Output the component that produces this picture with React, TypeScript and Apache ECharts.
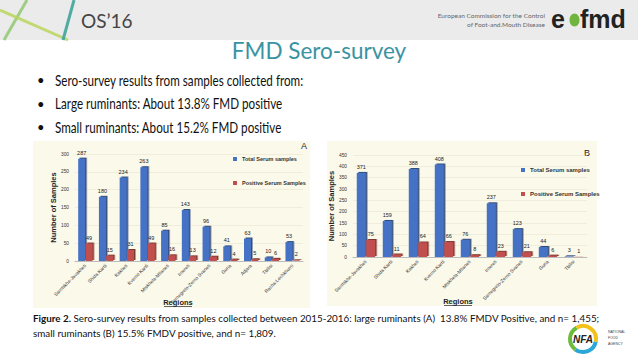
import React, { useEffect, useRef } from "react";
import * as echarts from "echarts";

const regionsA = [
  "Samtskhe-Javakheti",
  "Shida Kartli",
  "Kakheti",
  "Kvemo Kartli",
  "Mtskheta-Mtianeti",
  "Imereti",
  "Samegrelo-Zemo Svaneti",
  "Guria",
  "Adjara",
  "Tbilisi",
  "Racha-Lechkhumi",
];
const totalA = [287, 180, 234, 263, 85, 143, 96, 41, 63, 10, 53];
const positiveA = [49, 15, 31, 49, 16, 13, 12, 4, 5, 6, 2];

const regionsB = [
  "Samtskhe-Javakheti",
  "Shida Kartli",
  "Kakheti",
  "Kvemo Kartli",
  "Mtskheta-Mtianeti",
  "Imereti",
  "Samegrelo-Zemo Svaneti",
  "Guria",
  "Tbilisi",
];
const totalB = [371, 159, 388, 408, 76, 237, 123, 44, 3];
const positiveB = [75, 11, 64, 66, 8, 23, 21, 6, 1];

const seriesNames = ["Total Serum samples", "Positive Serum Samples"];
const bullets = [
  "Sero-survey results from samples collected from:",
  "Large ruminants: About 13.8% FMD positive",
  "Small ruminants: About 15.2% FMD positive",
];

const BLUE = "#4472c4";
const RED = "#c0504d";
const FONT = "Lato, 'Open Sans', sans-serif";

export default function App() {
  const ref = useRef<HTMLDivElement>(null);
  useEffect(() => {
    const chart = echarts.init(ref.current!, null, { renderer: "svg" });
    const axisLabelStyle = { fontSize: 4.8, color: "#333", fontFamily: "Arial" };
    const mkX = (data: string[], gridIndex: number) => ({
      type: "category",
      gridIndex,
      data,
      axisTick: { show: false },
      axisLine: { lineStyle: { color: "#bbb" } },
      axisLabel: { ...axisLabelStyle, rotate: 45, interval: 0, margin: 4 },
    });
    const mkY = (max: number, gridIndex: number) => ({
      type: "value",
      gridIndex,
      min: 0,
      max,
      interval: 50,
      name: "Number of Samples",
      nameLocation: "middle",
      nameRotate: 90,
      nameGap: 18,
      nameTextStyle: { fontSize: 7.5, fontWeight: "bold", color: "#222", fontFamily: "Arial" },
      axisLabel: { ...axisLabelStyle, margin: 6 },
      axisLine: { show: false },
      axisTick: { show: false },
      splitLine: { lineStyle: { color: "#e4e1cc", width: 0.5 } },
    });
    const barStyle = (c: string) => ({
      color: c,
      shadowColor: c === BLUE ? "rgba(30,55,110,0.9)" : "rgba(110,35,30,0.9)",
      shadowOffsetX: 1.5,
      shadowOffsetY: -1,
      shadowBlur: 0,
    });
    const label = { show: true, position: "top", fontSize: 5.5, color: "#222", fontFamily: "Arial", distance: 3 };
    const mkSeries = (name: string, data: number[], idx: number, color: string, w: number) => ({
      type: "bar",
      name,
      xAxisIndex: idx,
      yAxisIndex: idx,
      data,
      barWidth: w,
      barGap: "5%",
      itemStyle: barStyle(color),
      label,
    });
    const legendCommon = {
      orient: "vertical",
      itemWidth: 4,
      itemHeight: 4,
      icon: "rect",
      itemGap: 18,
      textStyle: { fontSize: 5.5, fontWeight: "bold", color: "#333", fontFamily: "Arial" },
      selectedMode: false,
      data: seriesNames,
    };
    const txt = (text: string, x: number, y: number, style: any, extra: any = {}) => ({
      type: "text",
      x,
      y,
      ...extra,
      style: { text, fontFamily: FONT, ...style },
    });
    const option: any = {
      animation: false,
      backgroundColor: "#ffffff",
      grid: [
        { left: 75, right: 335, top: 154, bottom: 98 },
        { left: 353, right: 51, top: 155, bottom: 102 },
      ],
      xAxis: [mkX(regionsA, 0), mkX(regionsB, 1)],
      yAxis: [mkY(300, 0), mkY(450, 1)],
      legend: [
        { ...legendCommon, left: 228, top: 151 },
        { ...legendCommon, left: 516, top: 162, itemGap: 18, textStyle: { ...legendCommon.textStyle, fontSize: 6 } },
      ],
      series: [
        mkSeries(seriesNames[0], totalA, 0, BLUE, 7),
        mkSeries(seriesNames[1], positiveA, 0, RED, 7),
        mkSeries(seriesNames[0], totalB, 1, BLUE, 9),
        mkSeries(seriesNames[1], positiveB, 1, RED, 9),
      ],
      graphic: [
        // header band
        { type: "rect", z: -10, shape: { x: 0, y: 0, width: 638, height: 40 }, style: { fill: "#ebebeb" } },
        { type: "line", shape: { x1: 27, y1: 0, x2: 4, y2: 40 }, style: { stroke: "#8cc66a", lineWidth: 3, opacity: 0.8 } },
        { type: "line", shape: { x1: 0, y1: 10, x2: 68, y2: 40 }, style: { stroke: "#b9d65a", lineWidth: 3, opacity: 0.85 } },
        { type: "line", shape: { x1: 74, y1: 0, x2: 63, y2: 40 }, style: { stroke: "#3fa59a", lineWidth: 3, opacity: 0.9 } },
        txt("OS\u201916", 81, 20, { fontSize: 19, fill: "#444", verticalAlign: "middle" }),
        txt("European Commission for the Control", 545, 15, { fontSize: 6.5, fill: "#666", align: "right", verticalAlign: "middle" }),
        txt("of Foot-and.Mouth Disease", 545, 24, { fontSize: 6.5, fill: "#666", align: "right", verticalAlign: "middle" }),
        txt("e", 551, 19, { fontSize: 25, fontWeight: "bold", fill: "#222", verticalAlign: "middle", fontFamily: "Arial" }),
        { type: "ellipse", shape: { cx: 574.5, cy: 20, rx: 5, ry: 6.5 }, style: { fill: "#6fb43f" } },
        txt("fmd", 580, 19, { fontSize: 25, fontWeight: "bold", fill: "#222", verticalAlign: "middle", fontFamily: "Arial" }),
        // title
        txt("FMD Sero-survey", 319, 50, { fontSize: 22.5, fill: "#3a93a3", align: "center", verticalAlign: "middle" }),
        // bullets
        ...bullets.flatMap((b, i) => [
          txt("\u2022", 37, 80 + i * 23.5, { fontSize: 13, fill: "#111", verticalAlign: "middle" }),
          txt(b, 55, 80 + i * 23.5, { fontSize: 14.5, fill: "#111", verticalAlign: "middle" }, { scaleX: 0.805 }),
        ]),
        // chart panels
        { type: "rect", z: -10, shape: { x: 33, y: 141, width: 277, height: 167 }, style: { fill: "#fbf9ea" } },
        { type: "rect", z: -10, shape: { x: 327, y: 141, width: 270, height: 165 }, style: { fill: "#fbf9ea" } },
        txt("A", 304, 146, { fontSize: 9, fill: "#222", align: "center", verticalAlign: "middle", fontFamily: "Arial" }),
        txt("B", 587, 153, { fontSize: 9, fill: "#222", align: "center", verticalAlign: "middle", fontFamily: "Arial" }),
        txt("Regions", 178, 302, { fontSize: 7.5, fontWeight: "bold", fill: "#222", align: "center", verticalAlign: "middle", fontFamily: "Arial" }),
        { type: "line", shape: { x1: 164, y1: 306.5, x2: 192, y2: 306.5 }, style: { stroke: "#222", lineWidth: 0.7 } },
        txt("Regions", 458, 301, { fontSize: 7.5, fontWeight: "bold", fill: "#222", align: "center", verticalAlign: "middle", fontFamily: "Arial" }),
        { type: "line", shape: { x1: 444, y1: 305.5, x2: 472, y2: 305.5 }, style: { stroke: "#222", lineWidth: 0.7 } },
        // caption
        {
          type: "text",
          x: 33,
          y: 318,
          scaleX: 0.985,
          style: {
            text: "{b|Figure 2.} Sero-survey results from samples collected between 2015-2016: large ruminants (A)  13.8% FMDV Positive, and n= 1,455;",
            fontSize: 10,
            fontFamily: FONT,
            fill: "#111",
            verticalAlign: "middle",
            rich: { b: { fontWeight: "bold", fontSize: 10, fontFamily: FONT } },
          },
        },
        txt("small ruminants (B) 15.5% FMDV positive, and n= 1,809.", 33, 333, { fontSize: 10, fill: "#111", verticalAlign: "middle" }, { scaleX: 0.985 }),
        // NFA logo
        { type: "arc", shape: { cx: 583, cy: 339, r: 13, startAngle: 0.2, endAngle: 2.2 }, style: { stroke: "#2aa7d8", lineWidth: 4, fill: "none" } },
        { type: "arc", shape: { cx: 583, cy: 339, r: 13, startAngle: 2.2, endAngle: 4.2 }, style: { stroke: "#6dbb3a", lineWidth: 4, fill: "none" } },
        { type: "arc", shape: { cx: 583, cy: 339, r: 13, startAngle: 4.2, endAngle: 6.5 }, style: { stroke: "#f2c21b", lineWidth: 4, fill: "none" } },
        txt("NFA", 583, 339, { fontSize: 10, fontWeight: "bold", fontStyle: "italic", fill: "#222", align: "center", verticalAlign: "middle", fontFamily: "Arial" }),
        txt("NATIONAL\nFOOD\nAGENCY", 608, 338, { fontSize: 3.5, fill: "#444", verticalAlign: "middle", lineHeight: 6, fontFamily: "Arial" }),
      ],
    };
    chart.setOption(option);
    return () => chart.dispose();
  }, []);
  return (
    <div
      ref={ref}
      style={{ position: "fixed", left: 0, top: 0, width: 638, height: 359, background: "#fff" }}
    />
  );
}
